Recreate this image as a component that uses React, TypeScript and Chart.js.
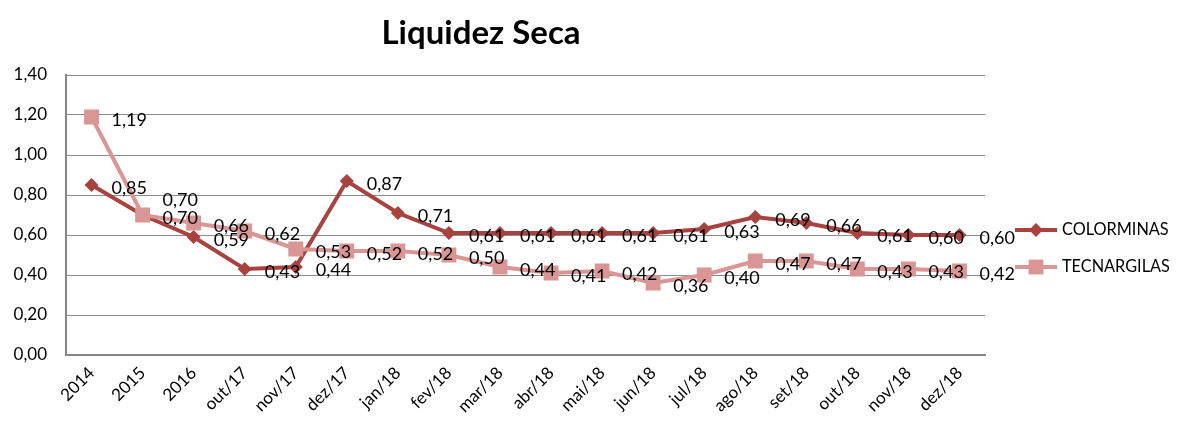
import React, { useEffect, useRef } from "react";
import { Chart, registerables } from "chart.js";

Chart.register(...registerables);

const categories = ["2014", "2015", "2016", "out/17", "nov/17", "dez/17", "jan/18", "fev/18", "mar/18", "abr/18", "mai/18", "jun/18", "jul/18", "ago/18", "set/18", "out/18", "nov/18", "dez/18"];
const colorminas = [0.85, 0.70, 0.59, 0.43, 0.44, 0.87, 0.71, 0.61, 0.61, 0.61, 0.61, 0.61, 0.63, 0.69, 0.66, 0.61, 0.60, 0.60];
const tecnargilas = [1.19, 0.70, 0.66, 0.62, 0.53, 0.52, 0.52, 0.50, 0.44, 0.41, 0.42, 0.36, 0.40, 0.47, 0.47, 0.43, 0.43, 0.42];
const seriesNames = ["COLORMINAS", "TECNARGILAS"];
const titleText = "Liquidez Seca";

const DARK = "#A8423F";
const PINK = "#D99694";
const FONT = "Lato, 'Open Sans', sans-serif";

const fmt = (v: number) => v.toFixed(2).replace(".", ",");

const titlePlugin = {
  id: "customTitle",
  afterDraw(chart: any) {
    const ctx = chart.ctx;
    ctx.save();
    ctx.font = `bold 33px ${FONT}`;
    ctx.fillStyle = "#000";
    ctx.textAlign = "center";
    ctx.textBaseline = "middle";
    ctx.fillText(titleText, 473, 25);
    ctx.restore();
  },
};

const labelPlugin = {
  id: "valueLabels",
  afterDatasetsDraw(chart: any) {
    const ctx = chart.ctx;
    ctx.save();
    ctx.font = `18px ${FONT}`;
    ctx.fillStyle = "#000";
    ctx.textAlign = "left";
    ctx.textBaseline = "middle";
    const n = chart.data.datasets.length;
    chart.data.datasets.forEach((ds: any, i: number) => {
      const meta = chart.getDatasetMeta(i);
      meta.data.forEach((pt: any, j: number) => {
        let y = pt.y + 3;
        for (let k = i + 1; k < n; k++) {
          const other = chart.getDatasetMeta(k).data[j];
          if (other && Math.abs(other.y - pt.y) < 10) y = other.y + 3 - 18;
        }
        ctx.fillText(fmt(ds.data[j]), pt.x + 20, y);
      });
    });
    ctx.restore();
  },
};

const legendPlugin = {
  id: "customLegend",
  afterDraw(chart: any) {
    const ctx = chart.ctx;
    const area = chart.chartArea;
    const x0 = area.right + 30;
    const ys = [222, 259];
    ctx.save();
    chart.data.datasets.forEach((ds: any, i: number) => {
      const y = ys[i];
      ctx.strokeStyle = ds.borderColor;
      ctx.lineWidth = 4;
      ctx.beginPath();
      ctx.moveTo(x0, y);
      ctx.lineTo(x0 + 42, y);
      ctx.stroke();
      ctx.fillStyle = ds.pointBackgroundColor;
      ctx.beginPath();
      if (ds.pointStyle === "rectRot") {
        const r = ds.pointRadius;
        ctx.moveTo(x0 + 21, y - r);
        ctx.lineTo(x0 + 21 + r, y);
        ctx.lineTo(x0 + 21, y + r);
        ctx.lineTo(x0 + 21 - r, y);
        ctx.closePath();
      } else {
        const s = ds.pointRadius * Math.SQRT1_2;
        ctx.rect(x0 + 21 - s, y - s, 2 * s, 2 * s);
      }
      ctx.fill();
      ctx.font = `16.3px ${FONT}`;
      ctx.fillStyle = "#000";
      ctx.textAlign = "left";
      ctx.textBaseline = "middle";
      ctx.fillText(ds.label, x0 + 47, y);
    });
    ctx.restore();
  },
};

export default function App() {
  const ref = useRef<HTMLCanvasElement | null>(null);
  useEffect(() => {
    if (!ref.current) return;
    const chart = new Chart(ref.current, {
      type: "line",
      data: {
        labels: categories,
        datasets: [
          {
            label: seriesNames[0],
            data: colorminas,
            borderColor: DARK,
            backgroundColor: DARK,
            pointBackgroundColor: DARK,
            pointBorderColor: DARK,
            pointBorderWidth: 0,
            borderWidth: 4,
            pointStyle: "rectRot",
            pointRadius: 7,
            tension: 0,
            order: 1,
          },
          {
            label: seriesNames[1],
            data: tecnargilas,
            borderColor: PINK,
            backgroundColor: PINK,
            pointBackgroundColor: PINK,
            pointBorderColor: PINK,
            pointBorderWidth: 0,
            borderWidth: 4,
            pointStyle: "rect",
            pointRadius: 10.5,
            tension: 0,
            order: 0,
          },
        ],
      },
      options: {
        responsive: false,
        animation: false,
        layout: { padding: { top: 67, right: 192, left: 0, bottom: 0 } },
        plugins: {
          legend: { display: false },
          title: { display: false },
          tooltip: { enabled: false },
        },
        scales: {
          x: {
            offset: true,
            grid: { display: false, drawTicks: false },
            border: { display: true, color: "#868686", width: 2 },
            ticks: {
              color: "#000",
              font: { family: FONT, size: 17 },
              maxRotation: 45,
              minRotation: 45,
              padding: 8,
              autoSkip: false,
            },
            afterFit(scale: any) {
              scale.height = 58;
            },
          },
          y: {
            min: 0,
            max: 1.4,
            grid: { color: "#8C8C8C", lineWidth: 1, drawTicks: false },
            border: { display: true, color: "#868686", width: 2 },
            ticks: {
              stepSize: 0.2,
              color: "#000",
              font: { family: FONT, size: 17 },
              padding: 19,
              callback: (v: any) => fmt(Number(v)),
            },
            afterFit(scale: any) {
              scale.width = 58;
            },
          },
        },
      },
      plugins: [titlePlugin, labelPlugin, legendPlugin],
    });
    return () => chart.destroy();
  }, []);
  return (
    <div style={{ width: 1161, height: 405 }}>
      <canvas ref={ref} width={1169} height={405} />
    </div>
  );
}
